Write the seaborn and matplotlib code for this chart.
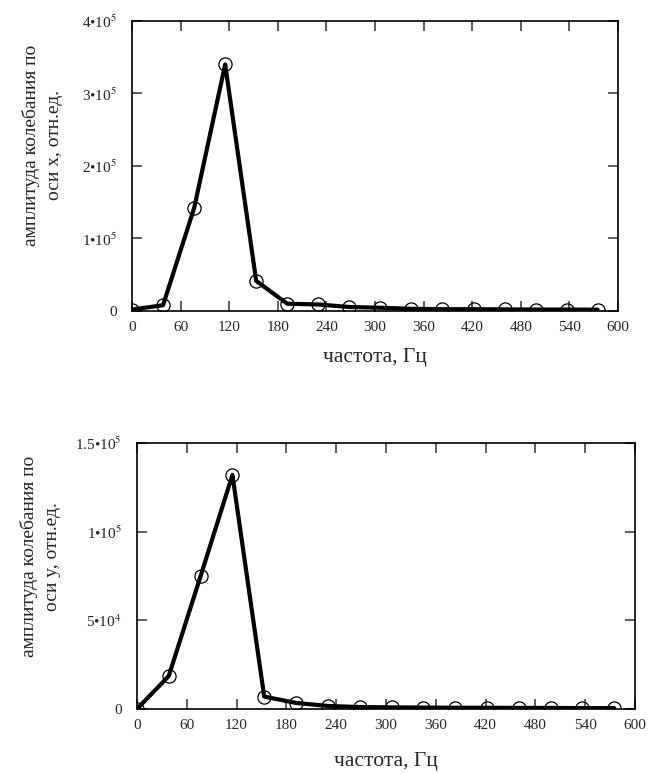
import seaborn as sns
import matplotlib.pyplot as plt
import numpy as np

# frequency points, Hz
freq = [0, 38.3, 76.7, 115.0, 153.3, 191.7, 230.0, 268.3, 306.7,
        345.0, 383.3, 421.7, 460.0, 498.3, 536.7, 575.0]

# amplitude along x, rel. units
amp_x = [2000, 8000, 142000, 340000, 41500, 10000, 9000, 5500, 4500,
         3000, 2500, 2500, 2200, 2000, 2000, 1800]

# amplitude along y, rel. units
amp_y = [0, 18600, 75000, 132000, 7000, 3400, 1700, 1100, 900,
         800, 700, 700, 600, 600, 500, 500]

x_ticks = list(range(0, 601, 60))
top_yticks = [0, 1e5, 2e5, 3e5, 4e5]
top_ylabels = ['0', '1\u202210$^{5}$', '2\u202210$^{5}$', '3\u202210$^{5}$', '4\u202210$^{5}$']
bot_yticks = [0, 5e4, 1e5, 1.5e5]
bot_ylabels = ['0', '5\u202210$^{4}$', '1\u202210$^{5}$', '1.5\u202210$^{5}$']

sns.set_style('ticks')
plt.rcParams['font.family'] = ['Liberation Serif', 'DejaVu Serif']
plt.rcParams['mathtext.fontset'] = 'stix'

fig = plt.figure(figsize=(6.51, 7.74), dpi=100)
ax1 = fig.add_axes([0.2028, 0.5982, 0.7465, 0.3747])
ax2 = fig.add_axes([0.2104, 0.0840, 0.7650, 0.3437])


def draw(ax, y, yticks, ylabels, ymax, ylab, ylab_x, xlab_y):
    sns.lineplot(x=freq, y=y, ax=ax, color='black', linewidth=3.0,
                 marker='o', markersize=9.5, markerfacecolor='none',
                 markeredgecolor='black', markeredgewidth=0.9)
    ax.set_xlim(0, 600)
    ax.set_ylim(0, ymax)
    ax.set_xticks(x_ticks)
    ax.set_xticklabels([str(t) for t in x_ticks], fontsize=11)
    ax.set_yticks(yticks)
    ax.set_yticklabels(ylabels, fontsize=11)
    ax.tick_params(direction='in', length=7, width=1.1, color='#333333',
                   top=True, right=True)
    ax.tick_params(axis='x', pad=7)
    ax.tick_params(axis='y', pad=11)
    for s in ax.spines.values():
        s.set_linewidth(1.2)
        s.set_color('black')
    ax.set_xlabel('частота, Гц', fontsize=15.5)
    ax.xaxis.set_label_coords(0.5, xlab_y)
    ax.xaxis.label.set_va('center')
    ax.set_ylabel(ylab, fontsize=14, linespacing=1.45)
    ax.yaxis.set_label_coords(ylab_x, 0.572)
    ax.yaxis.label.set_va('center')


draw(ax1, amp_x, top_yticks, top_ylabels, 4e5,
     'амплитуда колебания по\nоси x, отн.ед.', -0.184, -0.162)
draw(ax2, amp_y, bot_yticks, bot_ylabels, 1.5e5,
     'амплитуда колебания по\nоси y, отн.ед.', -0.193, -0.199)

fig.savefig('out.png', dpi=100)
